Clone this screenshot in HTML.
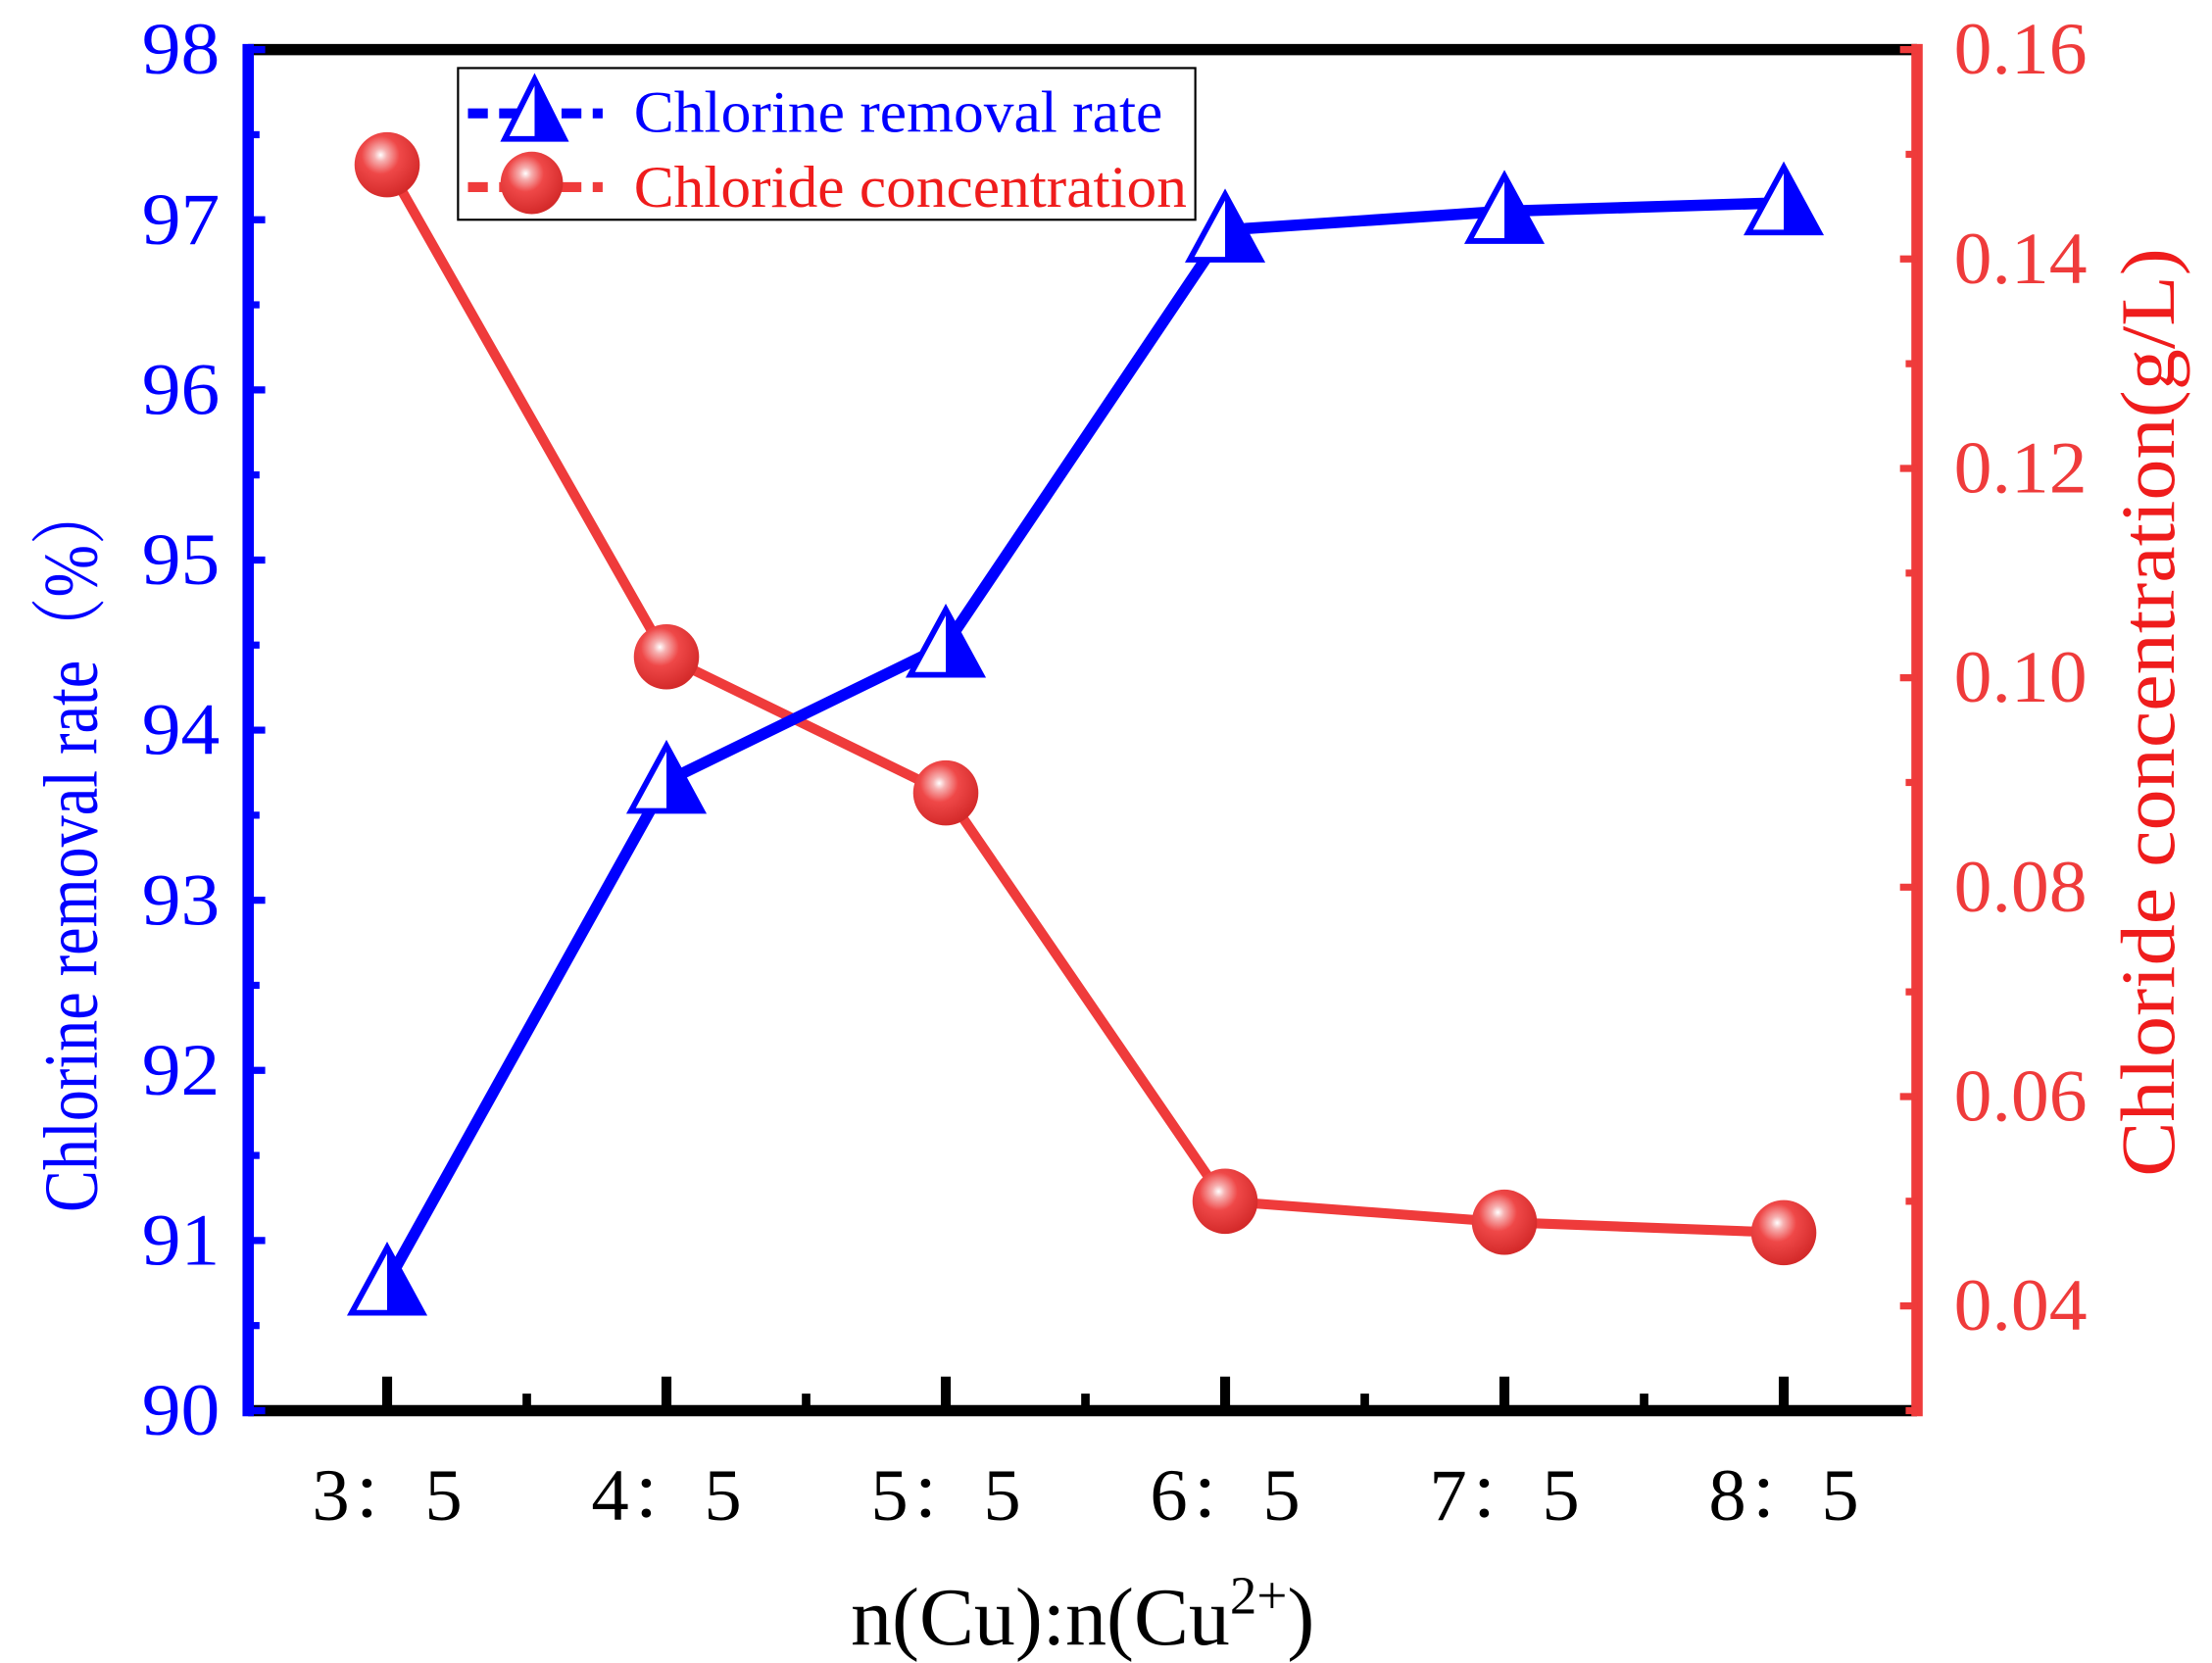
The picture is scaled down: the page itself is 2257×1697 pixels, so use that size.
<!DOCTYPE html>
<html><head><meta charset="utf-8"><style>
html,body{margin:0;padding:0;background:#fff}
svg{display:block}
text{font-family:"Liberation Serif","Noto Serif CJK SC",serif}
</style></head><body>
<svg id="chart" width="2257" height="1697" viewBox="0 0 1560 1173" xmlns="http://www.w3.org/2000/svg">
<defs>
<radialGradient id="ball" cx="0.4" cy="0.35" r="0.65">
<stop offset="0" stop-color="#ffffff"/><stop offset="0.15" stop-color="#f6b0b0"/><stop offset="0.45" stop-color="#ef4848"/><stop offset="1" stop-color="#d42a2a"/>
</radialGradient>
</defs>
<g id="axes"></g>
<g id="series"></g>
<g>
<rect x="323" y="48" width="520" height="107" fill="#fff" stroke="#000" stroke-width="1.5"/>
<line x1="330" y1="80" x2="425" y2="80" stroke="#0000ff" stroke-width="7" stroke-dasharray="14,8"/>
<polygon points="377,56 356,98 398,98" fill="#fff" stroke="#0000ff" stroke-width="4"/>
<polygon points="377,56 377,98 398,98" fill="#0000ff"/>
<text x="447" y="93" font-size="42" textLength="373" lengthAdjust="spacingAndGlyphs" fill="#0000ff">Chlorine removal rate</text>
<line x1="330" y1="132" x2="425" y2="132" stroke="#ef3b3b" stroke-width="7" stroke-dasharray="14,8"/>
<circle cx="375" cy="129" r="22" fill="url(#ball)"/>
<text x="447" y="146" font-size="42" textLength="390" lengthAdjust="spacingAndGlyphs" fill="#ef1c1c">Chloride concentration</text>
</g>
<text transform="translate(68,855) rotate(-90)" font-size="54" textLength="515" lengthAdjust="spacingAndGlyphs" fill="#0000ff">Chlorine removal rate（%）</text>
<text transform="translate(1533,830) rotate(-90)" font-size="54" textLength="655" lengthAdjust="spacingAndGlyphs" fill="#ef1c1c">Chloride concentration(g/L)</text>
<text x="600" y="1160" font-size="58" fill="#000">n(Cu):n(Cu<tspan dy="-22" font-size="38">2+</tspan><tspan dy="22">)</tspan></text>
</svg>
<script>
const categories=["3：5","4：5","5：5","6：5","7：5","8：5"];
const removalRate=[90.75,93.7,94.5,96.94,97.05,97.1];
const chloride=[0.149,0.102,0.089,0.050,0.048,0.047];
const leftTicks=[90,91,92,93,94,95,96,97,98];
const rightTicks=["0.04","0.06","0.08","0.10","0.12","0.14","0.16"];

const NS="http://www.w3.org/2000/svg";
const L=175,R=1352,T=35,B=995;
const xPos=i=>273+i*197;
const yLeft=v=>B-(v-90)/8*(B-T);
const yRight=v=>B-(v-0.03)/0.13*(B-T);
function mk(tag,attrs,parent){const e=document.createElementNS(NS,tag);for(const k in attrs)e.setAttribute(k,attrs[k]);parent.appendChild(e);return e;}
const ax=document.getElementById('axes'),se=document.getElementById('series');

let e=mk('line',{x1:L,y1:T,x2:R,y2:T,stroke:'#000','stroke-width':8},ax);

e=mk('line',{x1:L,y1:B,x2:R,y2:B,stroke:'#000','stroke-width':8},ax);

e=mk('line',{x1:L,y1:T-4,x2:L,y2:B+4,stroke:'#0000ff','stroke-width':8},ax);

e=mk('line',{x1:R,y1:T-4,x2:R,y2:B+4,stroke:'#ef3b3b','stroke-width':8},ax);


leftTicks.forEach((v,i)=>{
 const y=yLeft(v);
 mk('line',{x1:L,y1:y,x2:L+12,y2:y,stroke:'#0000ff','stroke-width':5},ax);
 if(i<leftTicks.length-1){const ym=yLeft(v+0.5);mk('line',{x1:L,y1:ym,x2:L+8,y2:ym,stroke:'#0000ff','stroke-width':5},ax);}
 const t=mk('text',{x:100,y:y+17,'font-size':52,textLength:55,lengthAdjust:'spacingAndGlyphs',fill:'#0000ff'},ax);
 t.textContent=v;
 
 
});
for(let k=0;k<=13;k++){
 const v=0.03+k*0.01,y=yRight(v);
 mk('line',{x1:R,y1:y,x2:R-(k%2?12:8),y2:y,stroke:'#ef3b3b','stroke-width':5},ax);
}
rightTicks.forEach(s=>{
 const y=yRight(parseFloat(s));
 const t=mk('text',{x:1378,y:y+17,'font-size':52,textLength:94,lengthAdjust:'spacingAndGlyphs',fill:'#ef3b3b'},ax);
 t.textContent=s;
 
 
});
categories.forEach((c,i)=>{
 const x=xPos(i);
 mk('line',{x1:x,y1:B,x2:x,y2:B-24,stroke:'#000','stroke-width':7},ax);
 if(i<categories.length-1)mk('line',{x1:x+98.5,y1:B,x2:x+98.5,y2:B-12,stroke:'#000','stroke-width':6},ax);
 const t=mk('text',{x:x-53,y:1072,'font-size':52,textLength:106,lengthAdjust:'spacingAndGlyphs',fill:'#000'},ax);
 t.textContent=c;
 
 
});

let pts=chloride.map((v,i)=>xPos(i)+','+yRight(v)).join(' ');
e=mk('polyline',{points:pts,fill:'none',stroke:'#ef3b3b','stroke-width':7},se);

chloride.forEach((v,i)=>{
 const c=mk('circle',{cx:xPos(i),cy:yRight(v),r:23,fill:'url(#ball)'},se);
 
 
});
pts=removalRate.map((v,i)=>xPos(i)+','+yLeft(v)).join(' ');
e=mk('polyline',{points:pts,fill:'none',stroke:'#0000ff','stroke-width':8},se);

removalRate.forEach((v,i)=>{
 const x=xPos(i),y=yLeft(v);
 const g=mk('g',{},se);
 
 
 mk('polygon',{points:`${x},${y-25} ${x-25},${y+21} ${x+25},${y+21}`,fill:'#fff',stroke:'#0000ff','stroke-width':4},g);
 mk('polygon',{points:`${x},${y-25} ${x},${y+21} ${x+25},${y+21}`,fill:'#0000ff'},g);
});
</script>
</body></html>
